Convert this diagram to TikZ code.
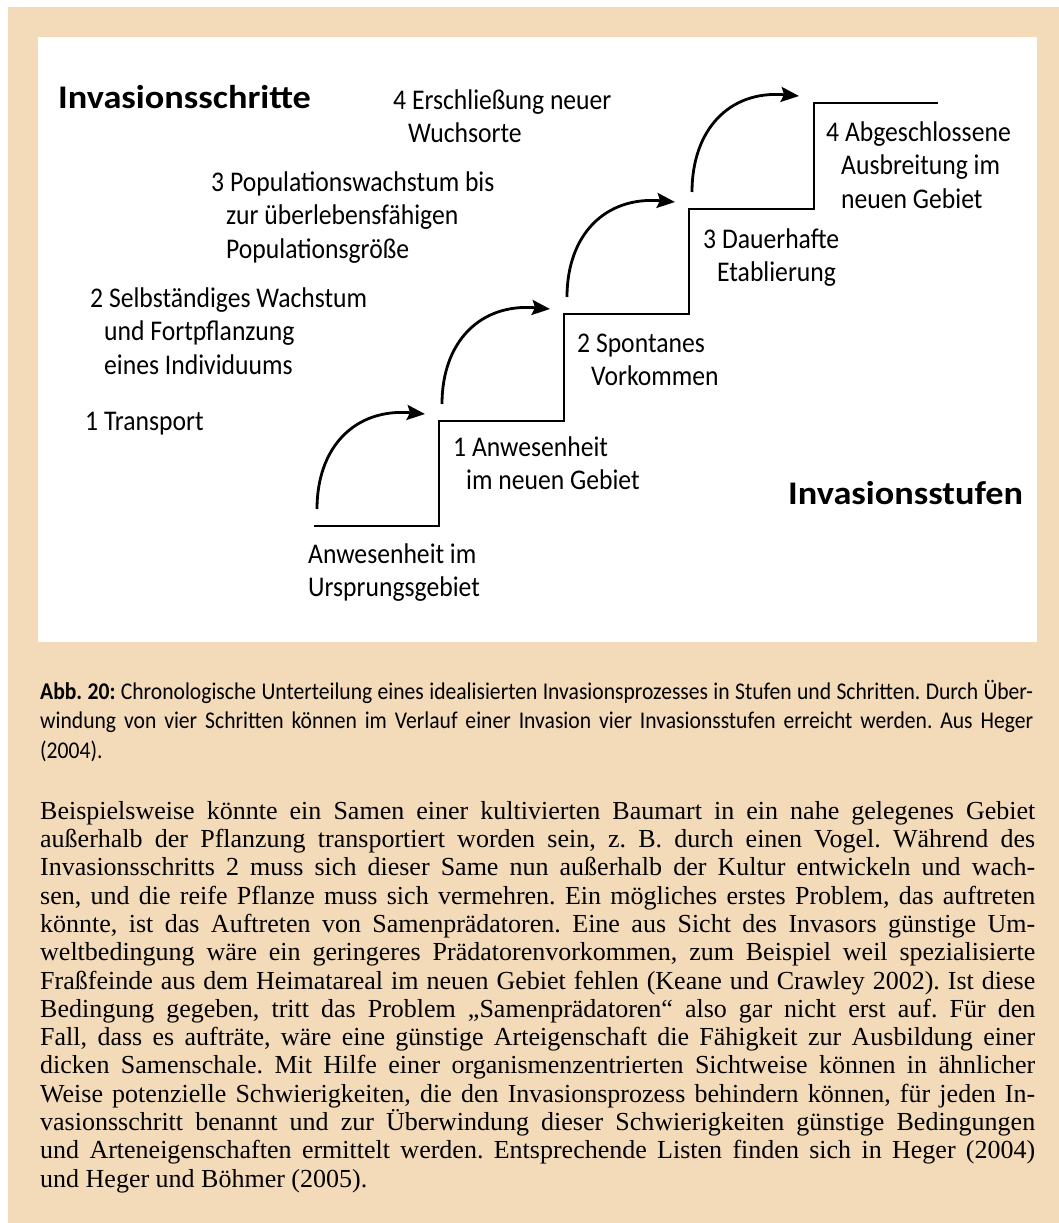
\documentclass[tikz,border=0pt]{standalone}
\usepackage{fontspec}
\usetikzlibrary{arrows.meta}
\newfontfamily\lblfont[FakeStretch=0.9]{Carlito}
\newfontfamily\headfont[FakeStretch=1.1]{Carlito}
\newfontfamily\capfont[FakeStretch=0.9]{Carlito}
\newfontfamily\bodyfont[FakeStretch=1.0]{Liberation Serif}
\definecolor{sand}{RGB}{243,218,185}
\newcommand\lineheight[1]{\rule{0pt}{#1}}
\newcommand\bodyline[1]{\makebox[995pt][s]{#1}}
\newcommand\capline[1]{\makebox[993pt][s]{#1}}
\frenchspacing
\begin{document}
\begin{tikzpicture}[x=1pt,y=-1pt,
  stairs/.style={line width=2.8pt, line join=miter},
  hop/.style={line width=2.8pt, -{Stealth[length=18pt,width=15pt,inset=3pt]}},
  lbl/.style={anchor=north west, inner sep=0pt, align=left,
    font=\lblfont\fontsize{28.5}{33.5}\selectfont},
  head/.style={anchor=base west, inner sep=0pt,
    font=\headfont\bfseries\fontsize{33}{40}\selectfont},
  captext/.style={anchor=north west, inner sep=0pt, align=left,
    font=\capfont\fontsize{24}{29.5}\selectfont},
  bodytext/.style={anchor=north west, inner sep=0pt, align=left,
    font=\bodyfont\fontsize{26}{28.3}\selectfont}]
\useasboundingbox (0,0) rectangle (1059,1223);
% page, tinted box and white figure panel
\fill[white] (0,0) rectangle (1059,1223);
\fill[sand] (8,7) rectangle (1059,1223);
\fill[white] (38,37) rectangle (1037,642);

% staircase corners
\coordinate (s0) at (314,526);
\coordinate (c1) at (439,526);
\coordinate (t1) at (439,421);
\coordinate (c2) at (564,421);
\coordinate (t2) at (564,314);
\coordinate (c3) at (689,314);
\coordinate (t3) at (689,209);
\coordinate (c4) at (814,209);
\coordinate (t4) at (814,103);
\coordinate (e4) at (938,103);
\draw[stairs] (s0) -- (c1) -- (t1) -- (c2) -- (t2) -- (c3) -- (t3) -- (c4) -- (t4) -- (e4);

% step arrows
\coordinate (a1s) at (317,509); \coordinate (a1e) at (425,414);
\coordinate (a2s) at (442,404); \coordinate (a2e) at (550,309);
\coordinate (a3s) at (567,297); \coordinate (a3e) at (675,202);
\coordinate (a4s) at (692,192); \coordinate (a4e) at (799,96);
\foreach \k in {1,2,3,4}
  \draw[hop] (a\k s) .. controls +(0,-62) and +(-70,-6) .. (a\k e);

% headings
\node[head] (hschritte) at (58,108) {Invasionsschritte};
\node[head] (hstufen) at (788,504) {Invasionsstufen};

% invasion steps
\node[lbl] (step4) at (393,85) {\lineheight{24pt}4 Erschließung neuer\\\hspace*{15pt}Wuchsorte};
\node[lbl] (step3) at (211,167) {\lineheight{24pt}3 Populationswachstum bis\\\hspace*{15pt}zur überlebensfähigen\\\hspace*{15pt}Populationsgröße};
\node[lbl] (step2) at (90,283) {\lineheight{24pt}2 Selbständiges Wachstum\\\hspace*{14pt}und Fortpflanzung\\\hspace*{14pt}eines Individuums};
\node[lbl] (step1) at (85,406) {\lineheight{24pt}1 Transport};

% invasion stages
\node[lbl] (stage4) at (826,117) {\lineheight{24pt}4 Abgeschlossene\\\hspace*{15pt}Ausbreitung im\\\hspace*{15pt}neuen Gebiet};
\node[lbl] (stage3) at (703,224) {\lineheight{24pt}3 Dauerhafte\\\hspace*{14pt}Etablierung};
\node[lbl] (stage2) at (577,328) {\lineheight{24pt}2 Spontanes\\\hspace*{14pt}Vorkommen};
\node[lbl] (stage1) at (453,432) {\lineheight{24pt}1 Anwesenheit\\\hspace*{13pt}im neuen Gebiet};
\node[lbl] (stage0) at (308,539) {\lineheight{24pt}Anwesenheit im\\Ursprungsgebiet};

% figure caption
\node[captext] (caption) at (40,679) {%
\lineheight{20pt}\capline{\textbf{Abb. 20:} Chronologische Unterteilung eines idealisierten Invasionsprozesses in Stufen und Schritten. Durch Über-}\\
\capline{windung von vier Schritten können im Verlauf einer Invasion vier Invasionsstufen erreicht werden. Aus Heger}\\
(2004).};

% running text
\node[bodytext] (body) at (40,798) {%
\lineheight{21pt}\bodyline{Beispielsweise könnte ein Samen einer kultivierten Baumart in ein nahe gelegenes Gebiet}\\
\bodyline{außerhalb der Pflanzung transportiert worden sein, z. B. durch einen Vogel. Während des}\\
\bodyline{Invasionsschritts 2 muss sich dieser Same nun außerhalb der Kultur entwickeln und wach-}\\
\bodyline{sen, und die reife Pflanze muss sich vermehren. Ein mögliches erstes Problem, das auftreten}\\
\bodyline{könnte, ist das Auftreten von Samenprädatoren. Eine aus Sicht des Invasors günstige Um-}\\
\bodyline{weltbedingung wäre ein geringeres Prädatorenvorkommen, zum Beispiel weil spezialisierte}\\
\bodyline{Fraßfeinde aus dem Heimatareal im neuen Gebiet fehlen (Keane und Crawley 2002). Ist diese}\\
\bodyline{Bedingung gegeben, tritt das Problem „Samenprädatoren“ also gar nicht erst auf. Für den}\\
\bodyline{Fall, dass es aufträte, wäre eine günstige Arteigenschaft die Fähigkeit zur Ausbildung einer}\\
\bodyline{dicken Samenschale. Mit Hilfe einer organismenzentrierten Sichtweise können in ähnlicher}\\
\bodyline{Weise potenzielle Schwierigkeiten, die den Invasionsprozess behindern können, für jeden In-}\\
\bodyline{vasionsschritt benannt und zur Überwindung dieser Schwierigkeiten günstige Bedingungen}\\
\bodyline{und Arteneigenschaften ermittelt werden. Entsprechende Listen finden sich in Heger (2004)}\\
und Heger und Böhmer (2005).};
\end{tikzpicture}
\end{document}
